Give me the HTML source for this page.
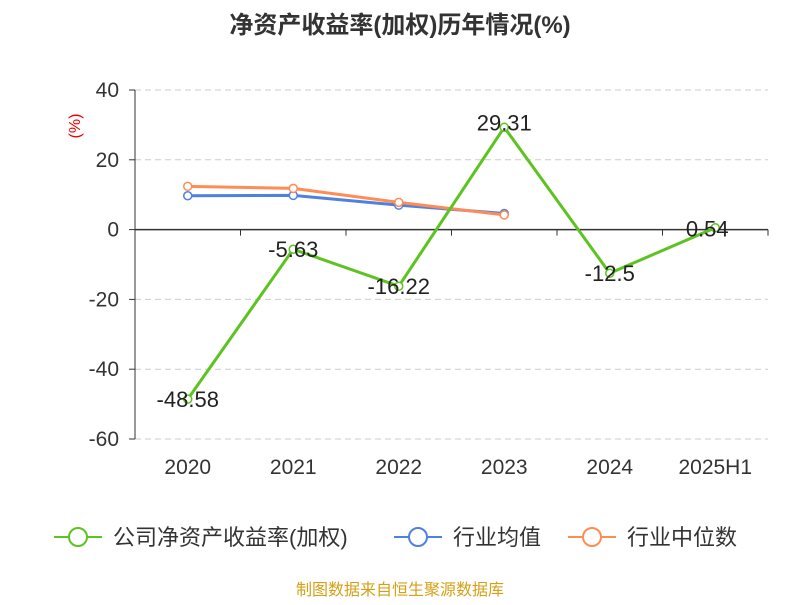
<!DOCTYPE html>
<html><head><meta charset="utf-8"><style>
body{margin:0;background:#fff;font-family:"Liberation Sans","Noto Sans CJK SC",sans-serif;}
svg text{font-family:"Liberation Sans","Noto Sans CJK SC",sans-serif;}
</style></head><body>
<svg id="c" width="800" height="600">
<text x="400" y="33" text-anchor="middle" font-size="24" font-weight="bold" fill="#333">净资产收益率(加权)历年情况(%)</text>
<text x="80" y="126" text-anchor="middle" font-size="16" fill="#e00" transform="rotate(-90 80 126)">(%)</text>
<g id="grid"></g><g id="series"></g>
<g>
<g><line x1="54" y1="537" x2="102" y2="537" stroke="#5cc320" stroke-width="2"/><circle cx="78" cy="537" r="9" fill="#fff" stroke="#5cc320" stroke-width="2"/><text x="113" y="545" font-size="22" fill="#333">公司净资产收益率(加权)</text></g>
<g><line x1="394" y1="537" x2="442" y2="537" stroke="#4f81e0" stroke-width="2"/><circle cx="418" cy="537" r="9" fill="#fff" stroke="#4f81e0" stroke-width="2"/><text x="453" y="545" font-size="22" fill="#333">行业均值</text></g>
<g><line x1="568" y1="537" x2="616" y2="537" stroke="#ff8c55" stroke-width="2"/><circle cx="592" cy="537" r="9" fill="#fff" stroke="#ff8c55" stroke-width="2"/><text x="627" y="545" font-size="22" fill="#333">行业中位数</text></g>
</g>
<text x="400" y="595" text-anchor="middle" font-size="16" fill="#d4a017">制图数据来自恒生聚源数据库</text>
</svg>
<script>
const categories=["2020","2021","2022","2023","2024","2025H1"];
const companyValues=[-48.58,-5.63,-16.22,29.31,-12.5,0.54];
const industryAvg=[9.7,9.8,7.0,4.6];
const industryMedian=[12.4,11.8,7.8,4.2];
const yTicks=[40,20,0,-20,-40,-60];
const NS="http://www.w3.org/2000/svg";
const x0=135,x1=768,yTop=90,yBot=439,yMax=40,yMin=-60;
const bw=(x1-x0)/categories.length;
const X=i=>x0+bw*(i+0.5);
const Y=v=>yTop+(yMax-v)/(yMax-yMin)*(yBot-yTop);
function mk(tag,attrs,parent,txt){const e=document.createElementNS(NS,tag);for(const k in attrs)e.setAttribute(k,attrs[k]);if(txt!=null)e.textContent=txt;parent.appendChild(e);return e;}
const grid=document.getElementById('grid'),ser=document.getElementById('series');
yTicks.forEach(v=>{
 if(v!==0){const l=mk('line',{x1:x0,x2:x1,y1:Y(v),y2:Y(v),stroke:'#ccc','stroke-dasharray':'6,4'},grid);
 
 }
 const t=mk('text',{x:x0-16,y:Y(v)+7,'text-anchor':'end','font-size':21,fill:'#333'},grid,String(v));
 
 
 mk('line',{x1:x0-6,x2:x0,y1:Y(v),y2:Y(v),stroke:'#333'},grid);
});
const ya=mk('line',{x1:x0,x2:x0,y1:yTop,y2:yBot,stroke:'#333'},grid);


const xa=mk('line',{x1:x0,x2:x1,y1:Y(0),y2:Y(0),stroke:'#333','stroke-width':1.5},grid);


for(let i=0;i<=categories.length;i++)mk('line',{x1:x0+bw*i,x2:x0+bw*i,y1:Y(0),y2:Y(0)+6,stroke:'#333'},grid);
categories.forEach((c,i)=>{const t=mk('text',{x:X(i),y:474,'text-anchor':'middle','font-size':21,fill:'#333'},grid,c);
 
 });
function series(vals,color,name,labels){
 const g=mk('g',{},ser);
 
 
 mk('polyline',{points:vals.map((v,i)=>X(i)+','+Y(v)).join(' '),fill:'none',stroke:color,'stroke-width':3},g);
 vals.forEach((v,i)=>{const c=mk('circle',{cx:X(i),cy:Y(v),r:4,fill:'#fff',stroke:color,'stroke-width':1.5},g);
  
  
  if(labels){const t=mk('text',{x:X(i)-(i===5?8:0),y:Y(v)+(i===3?3:(i===5?9:8)),'text-anchor':'middle','font-size':22,fill:'#222'},g,String(v));
   
   }
 });
}
series(industryAvg,'#4f81e0','industry-avg-line',false);
series(industryMedian,'#ff8c55','industry-median-line',false);
series(companyValues,'#5cc320','company-roe-line',true);
</script>
</body></html>
